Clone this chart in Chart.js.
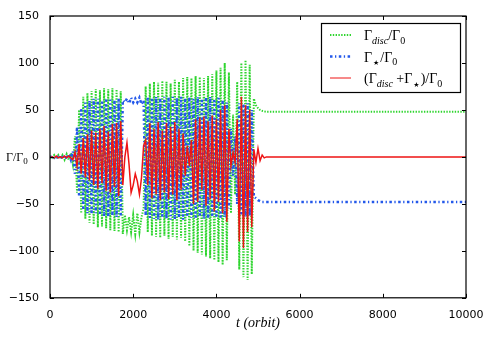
<!DOCTYPE html>
<html>
<head>
<meta charset="utf-8">
<script src="https://cdn.jsdelivr.net/npm/chart.js@4/dist/chart.umd.min.js"></script>
<style>
  html, body { margin: 0; padding: 0; background: #fff; }
  #wrap { width: 491px; height: 353px; position: relative; }
</style>
</head>
<body>
<div id="wrap"><canvas id="chart" width="491" height="353"></canvas></div>
<script>
// time in orbits
const orbit = [
  0, 50, 100, 150, 200, 250, 300, 350, 400, 450,
  500, 550, 600, 650, 700, 750, 800, 850, 900, 950,
  1000, 1050, 1100, 1150, 1200, 1250, 1300, 1350, 1400, 1450,
  1500, 1550, 1600, 1650, 1700, 1750, 1800, 1850, 1900, 1950,
  2000, 2050, 2100, 2150, 2200, 2250, 2300, 2350, 2400, 2450,
  2500, 2550, 2600, 2650, 2700, 2750, 2800, 2850, 2900, 2950,
  3000, 3050, 3100, 3150, 3200, 3250, 3300, 3350, 3400, 3450,
  3500, 3550, 3600, 3650, 3700, 3750, 3800, 3850, 3900, 3950,
  4000, 4050, 4100, 4150, 4200, 4250, 4300, 4350, 4400, 4450,
  4500, 4550, 4600, 4650, 4700, 4750, 4800, 4850, 4900, 4950,
  5000, 5050, 5100, 5150, 5200, 5250, 5300, 10000
];

// Gamma_disc / Gamma_0
const gammaDisc = [
  1, -1, 2, -2, 2, -2, 2, -3, 3, -3,
  4, -8, 22, -38, 50, -60, 64, -66, 68, -70,
  70, -72, 72, -75, 71, -74, 73, -76, 72, -78,
  73, -79, 72, -80, 70, -82, -62, -78, -64, -80,
  -62, -82, -60, -80, -64, -55, 75, -80, 78, -84,
  80, -85, 79, -86, 81, -84, 80, -87, 78, -85,
  82, -88, 80, -86, 84, -90, 85, -95, 84, -100,
  86, -102, 85, -104, 84, -106, 86, -108, 88, -110,
  92, -112, 95, -115, 100, -110, 90, -60, 45, -40,
  80, -120, 100, -128, 103, -131, 98, -125, 62, 55,
  52, 50, 49, 48.5, 48, 48, 48, 48
];

// Gamma_star / Gamma_0
const gammaStar = [
  -1, 1, -1, 1, -2, 2, -2, 2, -2, 3,
  -3, 6, -18, 32, -42, 52, -56, 58, -60, 60,
  -61, 62, -60, 62, -62, 60, -63, 62, -64, 61,
  -62, 60, -64, 62, -63, 60, 58, 62, 57, 63,
  58, 62, 58, 63, 56, 60, -62, 64, -65, 63,
  -66, 64, -67, 62, -65, 64, -66, 63, -67, 64,
  -66, 63, -65, 64, -67, 62, -64, 63, -65, 62,
  -66, 64, -64, 62, -66, 63, -65, 64, -64, 62,
  -65, 63, -66, 60, -64, 58, -55, 30, -20, 22,
  -50, 57, -62, 56, -64, 57, -63, 50, -42, -44,
  -46, -47, -48, -48, -48, -48, -48, -48
];

// (Gamma_disc + Gamma_star) / Gamma_0
const gammaTotal = [
  -1, 0, -1, 1, -1, 0, -1, 1, -1, 1,
  -1, -3, 5, -10, 14, -18, 20, -22, 24, -25,
  28, -30, 26, -34, 30, -28, 33, -36, 27, -38,
  35, -32, 36, -42, 38, -30, 0, 15, -8, -38,
  -30, -18, -26, -40, -22, 12, 18, -30, 36, -44,
  30, -40, 37, -46, 28, -38, 36, -45, 32, -40,
  37, -46, 30, -35, 25, -20, 12, -10, 18, -50,
  40, -48, 42, -35, 43, -52, 38, -45, 44, -58,
  40, -48, 50, -60, 55, -69, 30, -10, 5, -6,
  40, -90, 64, -97, 55, -80, 50, -75, 8, -6,
  9, -4, 2, -1, 0, 0, 0, 0
];

const xTicks = [0, 2000, 4000, 6000, 8000, 10000];
const yTicks = [-150, -100, -50, 0, 50, 100, 150];

const GREEN = '#2fd52f';
const BLUE = '#2358ea';
const RED = '#ee1414';

const toPoints = ys => ys.map((y, i) => ({ x: orbit[i], y: y }));

// legend rows: [text, style] pieces, style '' = normal, 'sub' = italic subscript, 'sub0' = upright subscript
const legendRows = [
  { color: GREEN, width: 2, dash: [1.4, 1.4], parts: [['Γ', ''], ['disc', 'sub'], ['/Γ', ''], ['0', 'sub0']] },
  { color: BLUE, width: 2.5, dash: [2.5, 2.5, 1.3, 2.5], parts: [['Γ', ''], ['★', 'star'], ['/Γ', ''], ['0', 'sub0']] },
  { color: RED, width: 1, dash: [], parts: [['(Γ', ''], ['disc', 'sub'], [' +Γ', ''], ['★', 'star'], [')/Γ', ''], ['0', 'sub0']] }
];

const SERIF = '"Liberation Serif", "DejaVu Serif", serif';

function drawRich(ctx, parts, x, y, size) {
  let cx = x;
  parts.forEach(([txt, style]) => {
    if (style === 'sub') {
      ctx.font = 'italic ' + Math.round(size * 0.72) + 'px ' + SERIF;
      ctx.fillText(txt, cx, y + size * 0.25);
    } else if (style === 'sub0') {
      ctx.font = Math.round(size * 0.72) + 'px ' + SERIF;
      ctx.fillText(txt, cx, y + size * 0.25);
    } else if (style === 'star') {
      ctx.font = Math.round(size * 0.5) + 'px "DejaVu Sans", sans-serif';
      ctx.fillText(txt, cx + 1, y + size * 0.25);
    } else {
      ctx.font = size + 'px ' + SERIF;
      ctx.fillText(txt, cx, y);
    }
    cx += ctx.measureText(txt).width + (style === 'star' ? 2 : 0);
  });
}

const framePlugin = {
  id: 'frame',
  afterDraw(chart) {
    const { ctx, chartArea: a, scales } = chart;
    ctx.save();
    // inward ticks on all four sides
    ctx.strokeStyle = '#000';
    ctx.lineWidth = 1;
    ctx.beginPath();
    xTicks.forEach(v => {
      const px = Math.round(scales.x.getPixelForValue(v)) + 0.5;
      ctx.moveTo(px, a.bottom); ctx.lineTo(px, a.bottom - 4);
      ctx.moveTo(px, a.top); ctx.lineTo(px, a.top + 4);
    });
    yTicks.forEach(v => {
      const py = Math.round(scales.y.getPixelForValue(v)) + 0.5;
      ctx.moveTo(a.left, py); ctx.lineTo(a.left + 4, py);
      ctx.moveTo(a.right, py); ctx.lineTo(a.right - 4, py);
    });
    ctx.stroke();
    ctx.lineWidth = 1.2;
    ctx.strokeRect(a.left, a.top, a.right - a.left, a.bottom - a.top);

    // axis titles
    ctx.fillStyle = '#000';
    ctx.textBaseline = 'alphabetic';
    ctx.textAlign = 'left';
    drawRich(ctx, [['Γ/Γ', ''], ['0', 'sub0']], 6, 161, 12);
    ctx.font = 'italic 14px ' + SERIF;
    const xt = 't (orbit)';
    const w = ctx.measureText(xt).width;
    ctx.fillText('t', (a.left + a.right) / 2 - w / 2, 327);
    ctx.fillText('(orbit)', (a.left + a.right) / 2 - w / 2 + ctx.measureText('t ').width, 327);

    // legend
    const lx = 321, ly = 23, lw = 139, lh = 69;
    ctx.fillStyle = '#fff';
    ctx.fillRect(lx, ly, lw, lh);
    ctx.lineWidth = 1.2;
    ctx.strokeStyle = '#000';
    ctx.strokeRect(lx + 0.5, ly + 0.5, lw, lh);
    legendRows.forEach((row, i) => {
      const ry = ly + 12 + i * 21.5;
      ctx.beginPath();
      ctx.setLineDash(row.dash);
      ctx.strokeStyle = row.color;
      ctx.lineWidth = row.width;
      ctx.moveTo(330, ry);
      ctx.lineTo(351, ry);
      ctx.stroke();
      ctx.setLineDash([]);
      ctx.fillStyle = '#000';
      drawRich(ctx, row.parts, 364, ry + 5, 14);
    });
    ctx.restore();
  }
};

const minus = v => String(v).replace('-', '\u2212');

new Chart(document.getElementById('chart'), {
  type: 'line',
  data: {
    datasets: [
      {
        label: 'Γdisc/Γ0',
        data: toPoints(gammaDisc),
        borderColor: GREEN,
        borderWidth: 2,
        borderDash: [1.4, 1.4],
        pointRadius: 0,
        tension: 0,
        order: 3
      },
      {
        label: 'Γ★/Γ0',
        data: toPoints(gammaStar),
        borderColor: BLUE,
        borderWidth: 2.5,
        borderDash: [2.5, 2.5, 1.3, 2.5],
        pointRadius: 0,
        tension: 0,
        order: 2
      },
      {
        label: '(Γdisc+Γ★)/Γ0',
        data: toPoints(gammaTotal),
        borderColor: RED,
        borderWidth: 1.5,
        pointRadius: 0,
        tension: 0,
        order: 1
      }
    ]
  },
  options: {
    responsive: false,
    animation: false,
    layout: { padding: { left: 0, right: 25, top: 16, bottom: 28 } },
    plugins: {
      legend: { display: false },
      tooltip: { enabled: false }
    },
    scales: {
      x: {
        type: 'linear',
        min: 0,
        max: 10000,
        afterBuildTicks: s => { s.ticks = xTicks.map(v => ({ value: v })); },
        grid: { display: false },
        border: { display: false },
        ticks: {
          color: '#000',
          font: { family: '"DejaVu Sans"', size: 11 },
          padding: 3,
          maxRotation: 0,
          callback: v => minus(v)
        }
      },
      y: {
        min: -150,
        max: 150,
        afterBuildTicks: s => { s.ticks = yTicks.map(v => ({ value: v })); },
        afterFit: s => { s.width = 50; },
        grid: { display: false },
        border: { display: false },
        ticks: {
          color: '#000',
          font: { family: '"DejaVu Sans"', size: 11 },
          padding: 3,
          callback: v => minus(v)
        }
      }
    }
  },
  plugins: [framePlugin]
});
</script>
</body>
</html>
